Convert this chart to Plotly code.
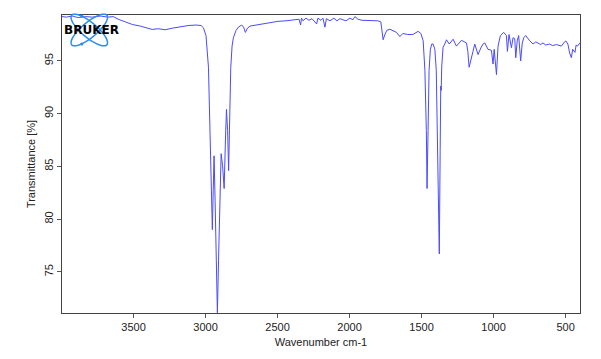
import numpy as np
import plotly.graph_objects as go

# Wavenumber (cm-1) and transmittance (%)
wavenumber = [3997, 3967, 3926, 3884, 3835, 3787, 3731, 3676, 3641, 3607, 3557, 3509, 3453, 3405, 3371,
              3329, 3281, 3232, 3177, 3121, 3066, 3031, 3015, 2997, 2980, 2969, 2958, 2953, 2947, 2941,
              2934, 2925, 2918, 2910, 2899, 2892, 2882, 2871, 2862, 2855, 2847, 2840, 2833, 2825, 2816,
              2807, 2788, 2772, 2749, 2736, 2724, 2709, 2691, 2650, 2608, 2552, 2497, 2441, 2386, 2351,
              2340, 2334, 2324, 2303, 2282, 2261, 2229, 2220, 2199, 2185, 2171, 2161, 2136, 2109, 2088,
              2067, 2046, 2025, 1998, 1977, 1963, 1942, 1915, 1859, 1804, 1783, 1772, 1767, 1755, 1741,
              1720, 1700, 1674, 1651, 1630, 1596, 1561, 1524, 1505, 1489, 1477, 1467, 1462, 1455, 1448,
              1439, 1429, 1420, 1408, 1398, 1389, 1377, 1371, 1367, 1364, 1360, 1351, 1339, 1327, 1308,
              1281, 1258, 1223, 1188, 1179, 1170, 1158, 1143, 1131, 1108, 1086, 1073, 1061, 1039, 1015,
              1004, 996, 980, 969, 953, 930, 911, 904, 893, 876, 865, 853, 846, 836, 826,
              812, 801, 790, 777, 749, 726, 707, 692, 673, 657, 638, 611, 590, 564, 529,
              513, 499, 484, 472, 460, 451, 435, 427, 418, 400]
transmittance = [99.2, 99.15, 99.25, 99.1, 99.2, 99.15, 99.25, 99.15, 99.2, 98.95, 98.7, 98.45, 98.3, 98.1, 97.98,
                 98.05, 97.95, 98.1, 98.25, 98.35, 98.4, 98.35, 98.14, 97.4, 94.4, 88.4, 81.8, 79.0, 82.7, 86.0,
                 81.8, 74.2, 71.12, 76.1, 83.7, 86.2, 85.1, 82.9, 87.5, 90.4, 88.4, 84.6, 89.3, 94.4, 96.4,
                 97.2, 97.9, 98.2, 98.4, 98.2, 97.7, 98.1, 98.3, 98.4, 98.55, 98.65, 98.75, 98.8, 98.9, 98.95,
                 98.4, 99.05, 98.8, 99.05, 98.85, 99.0, 98.5, 99.05, 98.85, 99.05, 98.2, 99.0, 98.8, 99.05, 98.8,
                 99.0, 98.9, 98.8, 99.05, 98.9, 99.2, 98.95, 98.85, 98.85, 98.8, 98.7, 97.8, 97.0, 97.5, 97.9,
                 98.0, 97.9, 97.7, 97.3, 97.6, 97.5, 97.5, 97.8, 97.6, 96.9, 94.1, 88.4, 82.9, 88.4, 94.1,
                 96.1, 96.6, 96.6, 96.1, 94.1, 86.5, 76.7, 86.5, 92.6, 92.2, 94.5, 96.3, 96.6, 97.0, 96.6,
                 97.05, 96.4, 96.95, 96.7, 95.9, 94.4, 95.2, 95.9, 96.6, 95.6, 96.3, 96.6, 96.7, 96.1, 96.0,
                 94.7, 96.1, 93.7, 96.4, 97.4, 97.7, 97.4, 95.9, 97.5, 96.25, 97.2, 97.1, 95.3, 96.9, 97.4,
                 95.0, 96.7, 97.2, 97.4, 96.9, 96.6, 96.8, 96.7, 96.55, 96.7, 96.5, 96.6, 96.45, 96.55, 96.4,
                 96.7, 96.9, 96.6, 95.75, 95.3, 96.1, 95.8, 96.5, 96.4, 96.7]

x_ticks = [3500, 3000, 2500, 2000, 1500, 1000, 500]
y_ticks = [75, 80, 85, 90, 95]

FONT = "Liberation Sans, Arial, sans-serif"

fig = go.Figure()
fig.add_trace(go.Scatter(x=wavenumber, y=transmittance, mode="lines",
                         line=dict(color="#4a4aff", width=1), hoverinfo="skip"))

# plot area in page pixels (for logo placement); page has an 8px body offset
OFF = 8
L, R, T, B = 61.7, 580.0, 15.0, 313.0


def px2paper(px, py):
    return (px - L) / (R - L), (B - py) / (B - T)


def ellipse_path(cx, cy, a, b, ang_deg, n=60):
    t = np.linspace(0, 2 * np.pi, n)
    ang = np.deg2rad(ang_deg)
    xs = cx + a * np.cos(t) * np.cos(ang) - b * np.sin(t) * np.sin(ang)
    ys = cy + a * np.cos(t) * np.sin(ang) + b * np.sin(t) * np.cos(ang)
    pts = [px2paper(x, y) for x, y in zip(xs, ys)]
    return "M " + " L ".join(f"{x:.5f},{y:.5f}" for x, y in pts) + " Z"


logo_blue = "#2a8cf0"
shapes = []
for ang in (40, -40):
    shapes.append(dict(type="path", xref="paper", yref="paper",
                       path=ellipse_path(89, 30, 23, 7.5, ang),
                       line=dict(color=logo_blue, width=1.5)))
for (dx, dy) in [(81.5, 44), (81.5, 16)]:
    x0, y0 = px2paper(dx - 1.6, dy + 1.6)
    x1, y1 = px2paper(dx + 1.6, dy - 1.6)
    shapes.append(dict(type="circle", xref="paper", yref="paper", x0=x0, y0=y0, x1=x1, y1=y1,
                       fillcolor=logo_blue, line=dict(width=0)))

tx, ty = px2paper(91, 30)
annotations = [dict(x=tx, y=ty, xref="paper", yref="paper", text="<b>BRUKER</b>", showarrow=False,
                    font=dict(family="DejaVu Sans, Arial", size=12, color="black"),
                    xanchor="center", yanchor="middle")]

fig.update_layout(
    width=601 - OFF, height=359 - OFF,
    margin=dict(l=L - OFF, r=601 - R, t=T - OFF, b=359 - B),
    paper_bgcolor="white", plot_bgcolor="white",
    showlegend=False,
    font=dict(family=FONT, size=11, color="#222222"),
    shapes=shapes, annotations=annotations,
    xaxis=dict(range=[3997, 400], tickvals=x_ticks, ticks="outside", ticklen=4, tickcolor="#555555",
               showline=True, linecolor="#444444", linewidth=1.2, mirror=True, showgrid=False,
               zeroline=False, tickfont=dict(family=FONT, size=11, color="#222222"),
               title=dict(text="Wavenumber cm-1", standoff=6, font=dict(family=FONT, size=11))),
    yaxis=dict(range=[71.1, 99.35], tickvals=y_ticks, ticks="outside", ticklen=4, tickcolor="#555555",
               tickangle=-90, showline=True, linecolor="#444444", linewidth=1.2, mirror=True,
               showgrid=False, zeroline=False, tickfont=dict(family=FONT, size=11, color="#222222"),
               title=dict(text="Transmittance [%]", standoff=4, font=dict(family=FONT, size=11))),
)

fig.write_html("out.html")
